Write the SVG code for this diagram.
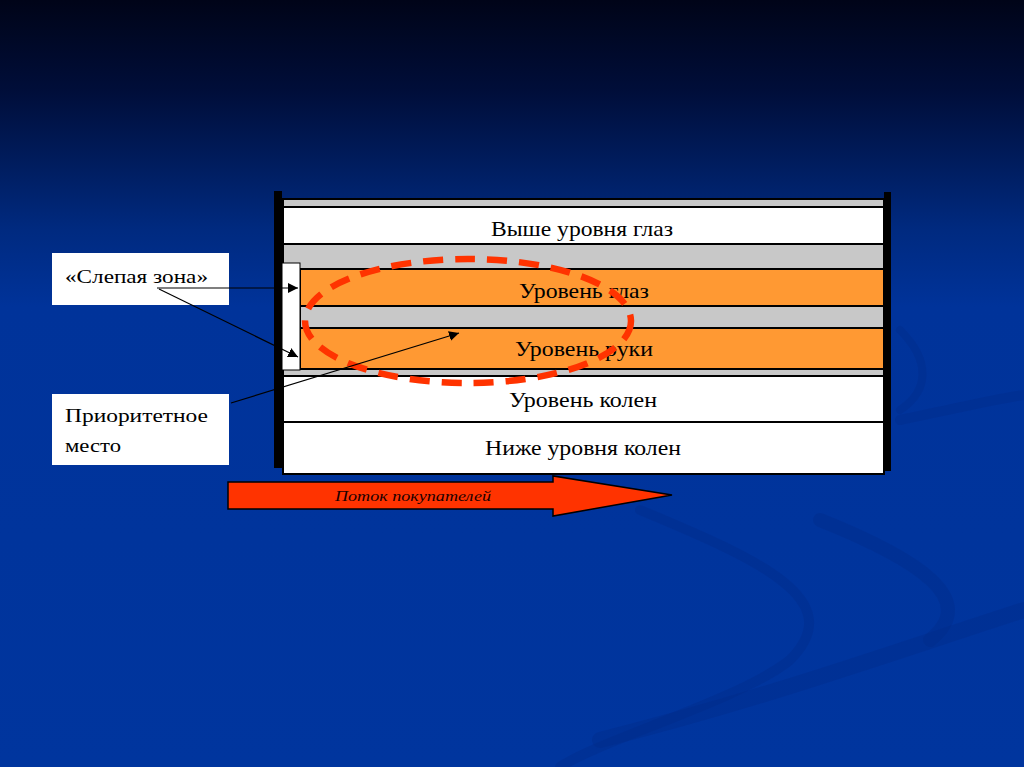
<svg xmlns="http://www.w3.org/2000/svg" width="1024" height="767" viewBox="0 0 1024 767">
  <defs>
    <linearGradient id="bg" x1="0" y1="0" x2="0" y2="1">
      <stop offset="0" stop-color="#000418"/>
      <stop offset="0.12" stop-color="#000e3a"/>
      <stop offset="0.3" stop-color="#002a80"/>
      <stop offset="0.4" stop-color="#00339a"/>
      <stop offset="1" stop-color="#00359e"/>
    </linearGradient>
    <marker id="ah" viewBox="0 0 10 10" refX="10" refY="5" markerWidth="10" markerHeight="10" markerUnits="userSpaceOnUse" orient="auto">
      <path d="M0,0 L10,5 L0,10 Z" fill="#000"/>
    </marker>
    <style>
      .row { stroke: #000; stroke-width: 2; }
      .white { fill: #ffffff; }
      .gray { fill: #c8c8c8; }
      .orange { fill: #ff9933; }
      .lbl { font-family: "Liberation Serif", "DejaVu Serif", serif; font-size: 21px; fill: #000; }
      .side { font-family: "Liberation Serif", "DejaVu Serif", serif; font-size: 19px; fill: #000; }
      .conn { stroke: #000; stroke-width: 1.2; fill: none; marker-end: url(#ah); }
      .swoosh { fill: none; stroke: #002c88; stroke-opacity: 0.35; stroke-linecap: round; }
    </style>
  </defs>

  <rect x="0" y="0" width="1024" height="767" fill="url(#bg)"/>

  <g id="background-swooshes">
    <path class="swoosh" stroke-width="10" d="M640,510 C760,560 850,600 790,660 C740,700 600,740 560,767"/>
    <path class="swoosh" stroke-width="14" d="M820,520 C920,560 980,600 930,640"/>
    <path class="swoosh" stroke-width="10" d="M900,420 C950,410 990,400 1024,395"/>
    <path class="swoosh" stroke-width="16" d="M600,740 C760,700 900,650 1024,610"/>
    <path class="swoosh" stroke-width="8" d="M900,330 C930,360 930,390 900,410"/>
  </g>

  <g id="shelf-frame">
    <rect x="274" y="191" width="8" height="277" fill="#000"/>
    <rect x="884" y="192" width="7" height="279" fill="#000"/>
  </g>

  <g id="row-top-gray"><rect class="row gray" x="283" y="199" width="601" height="8"/></g>
  <g id="row-above-eyes">
    <rect class="row white" x="283" y="207" width="601" height="37"/>
    <text class="lbl" x="582" y="236" text-anchor="middle" textLength="182" lengthAdjust="spacingAndGlyphs">Выше уровня глаз</text>
  </g>
  <g id="row-gray-1"><rect class="row gray" x="283" y="244" width="601" height="25"/></g>
  <g id="row-eyes">
    <rect class="row orange" x="300" y="269" width="584" height="37"/>
    <text class="lbl" x="584" y="298" text-anchor="middle" textLength="130" lengthAdjust="spacingAndGlyphs">Уровень глаз</text>
  </g>
  <g id="row-gray-2"><rect class="row gray" x="300" y="306" width="584" height="22"/></g>
  <g id="row-hands">
    <rect class="row orange" x="300" y="328" width="584" height="41"/>
    <text class="lbl" x="584" y="356" text-anchor="middle" textLength="138" lengthAdjust="spacingAndGlyphs">Уровень руки</text>
  </g>
  <g id="row-gray-3"><rect class="row gray" x="283" y="369" width="601" height="7"/></g>
  <g id="row-knees">
    <rect class="row white" x="283" y="376" width="601" height="46"/>
    <text class="lbl" x="583" y="407" text-anchor="middle" textLength="148" lengthAdjust="spacingAndGlyphs">Уровень колен</text>
  </g>
  <g id="row-below-knees">
    <rect class="row white" x="283" y="422" width="601" height="52"/>
    <text class="lbl" x="583" y="455" text-anchor="middle" textLength="196" lengthAdjust="spacingAndGlyphs">Ниже уровня колен</text>
  </g>
  <g id="blind-zone-strip"><rect x="282" y="263" width="18" height="107" fill="#fff" stroke="#000" stroke-width="1"/></g>

  <g id="priority-ellipse">
    <ellipse cx="468" cy="321" rx="163" ry="62" fill="none" stroke="#ff3300" stroke-width="6.5" stroke-dasharray="20 12"/>
  </g>

  <g id="label-blind-zone">
    <rect x="52" y="253" width="177" height="52" fill="#fff"/>
    <text class="side" x="65" y="283" textLength="143" lengthAdjust="spacingAndGlyphs">«Слепая зона»</text>
  </g>

  <g id="label-priority">
    <rect x="52" y="394" width="177" height="71" fill="#fff"/>
    <text class="side" x="65" y="422" textLength="143" lengthAdjust="spacingAndGlyphs">Приоритетное</text>
    <text class="side" x="65" y="452" textLength="56" lengthAdjust="spacingAndGlyphs">место</text>
  </g>

  <g id="connectors">
    <line class="conn" x1="157" y1="288" x2="298" y2="288"/>
    <line class="conn" x1="159" y1="289" x2="298" y2="357"/>
    <line class="conn" x1="231" y1="403" x2="459" y2="333"/>
  </g>

  <g id="customer-flow">
    <path d="M228,482 L553,482 L553,476 L672,495 L553,516 L553,509 L228,509 Z" fill="#ff3300" stroke="#000" stroke-width="1.5"/>
    <text x="335" y="501" font-family="Liberation Serif, DejaVu Serif, serif" font-style="italic" font-size="15" fill="#1a0000" textLength="156" lengthAdjust="spacingAndGlyphs">Поток покупателей</text>
  </g>
</svg>
